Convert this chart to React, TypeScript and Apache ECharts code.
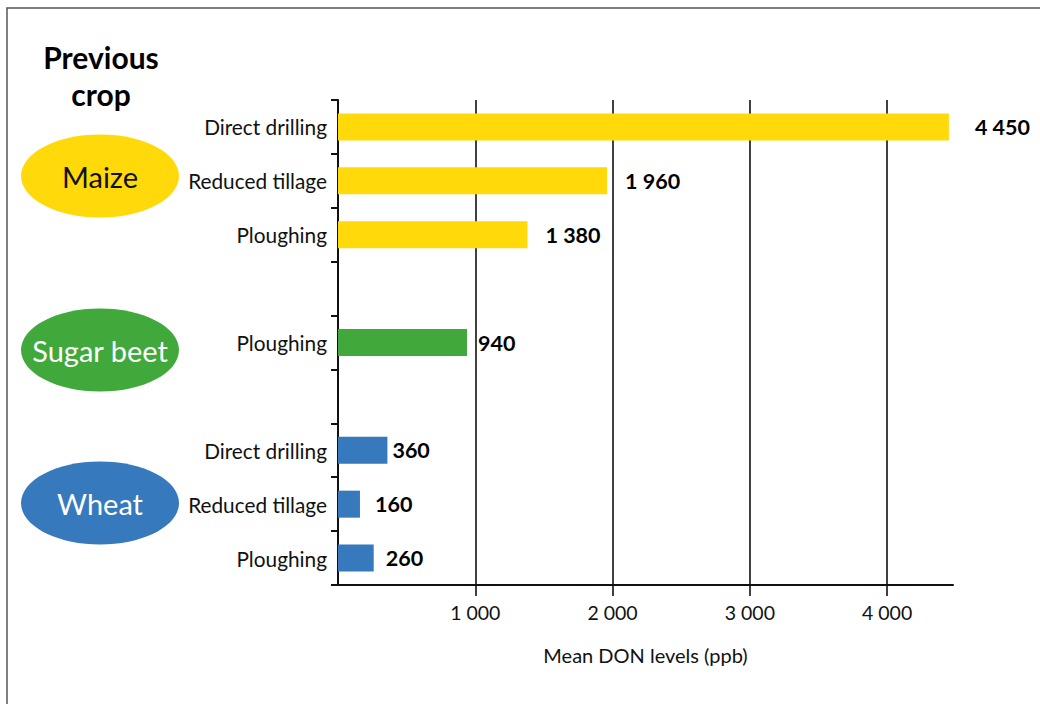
import React, { useEffect, useRef } from "react";
import * as echarts from "echarts";

// ---- data ----
const categories = [
  "Direct drilling",
  "Reduced tillage",
  "Ploughing",
  "",
  "Ploughing",
  "",
  "Direct drilling",
  "Reduced tillage",
  "Ploughing",
];
const cropOfRow = ["Maize", "Maize", "Maize", "", "Sugar beet", "", "Wheat", "Wheat", "Wheat"];
const values: (number | null)[] = [4450, 1960, 1380, null, 940, null, 360, 160, 260];
const crops = ["Maize", "Sugar beet", "Wheat"];
const xTicks = [1000, 2000, 3000, 4000];

// ---- styling ----
const cropColors: Record<string, string> = {
  Maize: "#FFD90A",
  "Sugar beet": "#41A83B",
  Wheat: "#3679BC",
};
const cropTextColors: Record<string, string> = {
  Maize: "#111111",
  "Sugar beet": "#ffffff",
  Wheat: "#ffffff",
};
const cropEllipseY: Record<string, number> = { Maize: 176, "Sugar beet": 350, Wheat: 503 };
const labelGap = [26, 18, 18, 0, 11, 0, 5, 15, 12];
const FONT = "Lato, 'Open Sans', sans-serif";

const fmt = (v: number) => String(v).replace(/\B(?=(\d{3})+(?!\d))/g, " ");

export default function App() {
  const ref = useRef<HTMLDivElement>(null);
  useEffect(() => {
    if (!ref.current) return;
    const chart = echarts.init(ref.current, undefined, { renderer: "svg" });
    const keys = categories.map((c, i) => `${i}|${c}`);

    const graphics: any[] = [
      {
        type: "rect",
        shape: { x: 7, y: 8, width: 1200, height: 900 },
        style: { fill: "none", stroke: "#555555", lineWidth: 1.5 },
        silent: true,
      },
      {
        type: "text",
        x: 101,
        y: 57,
        style: {
          text: "Previous",
          font: `bold 30px ${FONT}`,
          fill: "#000",
          align: "center",
          verticalAlign: "middle",
        },
      },
      {
        type: "text",
        x: 101,
        y: 94,
        style: {
          text: "crop",
          font: `bold 30px ${FONT}`,
          fill: "#000",
          align: "center",
          verticalAlign: "middle",
        },
      },
    ];
    crops.forEach((c) => {
      graphics.push({
        type: "ellipse",
        shape: { cx: 100, cy: cropEllipseY[c], rx: 79, ry: 41.5 },
        style: { fill: cropColors[c] },
        silent: true,
      });
      graphics.push({
        type: "text",
        x: 100,
        y: cropEllipseY[c],
        style: {
          text: c,
          font: `29px ${FONT}`,
          fill: cropTextColors[c],
          align: "center",
          verticalAlign: "middle",
        },
      });
    });

    chart.setOption({
      animation: false,
      grid: { left: 338, top: 100, right: 87, bottom: 119, containLabel: false },
      graphic: graphics,
      xAxis: {
        type: "value",
        min: 0,
        max: 4480,
        interval: 1000,
        name: "Mean DON levels (ppb)",
        nameLocation: "middle",
        nameGap: 60,
        nameTextStyle: { fontFamily: FONT, fontSize: 20, color: "#111" },
        axisLine: { show: true, lineStyle: { color: "#111", width: 2 } },
        axisTick: {
          show: true,
          length: 11,
          inside: false,
          customValues: xTicks,
          lineStyle: { color: "#111", width: 1.6 },
        },
        axisLabel: {
          customValues: xTicks,
          formatter: (v: number) => fmt(v),
          fontFamily: FONT,
          fontSize: 19.5,
          color: "#111",
          margin: 17,
        },
        splitLine: { show: true, lineStyle: { color: "#111", width: 1.6 } },
      },
      yAxis: {
        type: "category",
        inverse: true,
        data: keys,
        axisLine: { show: true, lineStyle: { color: "#111", width: 2 } },
        axisTick: { show: true, length: 7, alignWithLabel: false, lineStyle: { color: "#111", width: 2 } },
        axisLabel: {
          formatter: (k: string) => k.split("|")[1],
          fontFamily: FONT,
          fontSize: 20.8,
          color: "#111",
          margin: 11,
          interval: 0,
        },
        splitLine: { show: false },
      },
      series: [
        {
          type: "bar",
          barWidth: 27,
          data: values.map((v, i) => ({
            value: v === null ? "-" : v,
            itemStyle: { color: cropColors[cropOfRow[i]] || "#ccc" },
            label: {
              show: v !== null,
              position: "right",
              distance: labelGap[i],
              formatter: () => (v === null ? "" : fmt(v)),
              fontFamily: FONT,
              fontWeight: "bold",
              fontSize: 21.5,
              color: "#000",
            },
          })),
        },
      ],
    });
    return () => chart.dispose();
  }, []);
  return (
    <div
      ref={ref}
      style={{ position: "fixed", left: 0, top: 0, width: 1040, height: 704, background: "#fff" }}
    />
  );
}
